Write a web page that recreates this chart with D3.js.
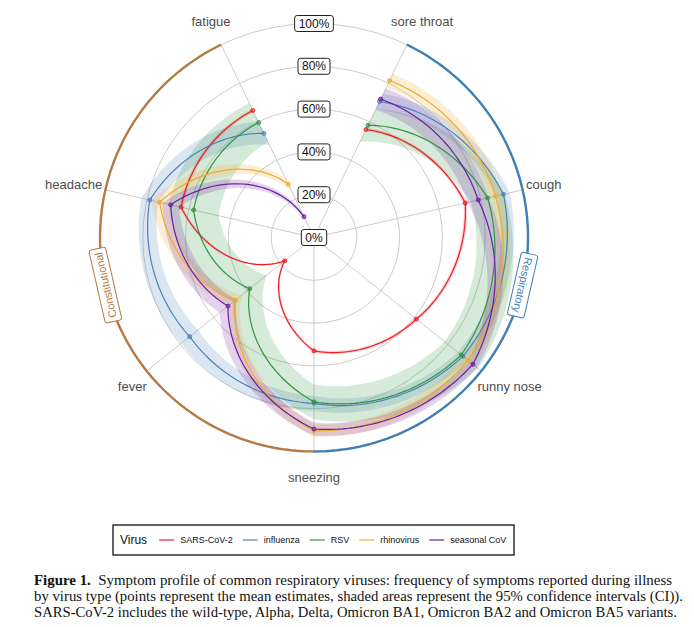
<!DOCTYPE html>
<html>
<head>
<meta charset="utf-8">
<script src="https://cdn.jsdelivr.net/npm/d3@7"></script>
<style>
  body { margin: 0; background: #fff; }
  .axis-label { font-family: "Liberation Sans", Arial, sans-serif; font-size: 13px; fill: #4d4d4d; }
  .pct-label { font-family: "Liberation Sans", Arial, sans-serif; font-size: 12px; fill: #111; }
  .legend-text { font-family: "Liberation Sans", Arial, sans-serif; font-size: 9px; fill: #111; }
  .caption { font-family: "Liberation Serif", "DejaVu Serif", serif; font-size: 14px; fill: #111; }
</style>
</head>
<body>
<div id="chart"></div>
<script>
// Symptom radar (polar) chart

const WIDTH = 694
const HEIGHT = 627

const symptoms = ["sore throat", "cough", "runny nose", "sneezing", "fever", "headache", "fatigue"]
const viruses = ["SARS-CoV-2", "influenza", "RSV", "rhinovirus", "seasonal CoV"]
const virusColors = ["#ee1f23", "#4a83b8", "#2f9440", "#f2a92c", "#6c1fa0"]

// mean % of symptom reported, in symptom order
const sarsValues = [56, 72.5, 61.2, 53, 17.5, 63.7, 65.9]
const fluValues = [70.5, 90.8, 89, 77.5, 74.3, 78.7, 54]
const rsvValues = [58.2, 83.2, 88, 76.8, 38.4, 57.7, 59.6]
const rhinoValues = [81.4, 87, 92, 90.3, 46.9, 74, 27.6]
const seasonalValues = [71.8, 78.7, 95, 89.5, 51.4, 68.7, 10.8]

// half width of the 95% CI, percentage points
const sarsCI = [0.8, 0.8, 0.8, 0.8, 0.8, 0.8, 0.8]
const fluCI = [4, 3, 3, 3.5, 5, 4, 6]
const rsvCI = [8.5, 8, 10, 8, 10, 12, 10]
const rhinoCI = [3.5, 3, 3, 3, 3.5, 4, 3]
const seasonalCI = [5.5, 5, 2.5, 3, 5, 4, 3]

const pctTicks = [0, 20, 40, 60, 80, 100]

const groups = ["Respiratory", "Constitutional"]
const groupColors = ["#3f7fb3", "#b57a44"]
const groupFrom = ["sore throat", "sneezing"]
const groupTo = ["sneezing", "fatigue"]

const CX = 314
const CY = 237.5
const R = 214

const allValues = [sarsValues, fluValues, rsvValues, rhinoValues, seasonalValues]
const allCI = [sarsCI, fluCI, rsvCI, rhinoCI, seasonalCI]

const svg = d3.select("#chart")
  .append("svg")
  .attr("width", WIDTH)
  .attr("height", HEIGHT)

const plot = svg.append("g")
  .attr("transform", `translate(${CX}, ${CY})`)

const angleScale = d3.scaleBand()
  .domain(symptoms)
  .range([0, 2 * Math.PI])
const angleOf = s => angleScale(s) + angleScale.bandwidth() / 2

const rScale = d3.scaleLinear()
  .domain([0, 100])
  .range([0, R])

// coord_polar style: r changes linearly with angle between two points
function munch(rows, steps = 30) {
  const out = []
  for (let i = 0; i < rows.length - 1; i++) {
    const a = rows[i], b = rows[i + 1]
    for (let k = 0; k < steps; k++) {
      const t = k / steps
      out.push({
        a: a.a + (b.a - a.a) * t,
        v: a.v + (b.v - a.v) * t,
        lo: a.lo + (b.lo - a.lo) * t,
        hi: a.hi + (b.hi - a.hi) * t
      })
    }
  }
  out.push(rows[rows.length - 1])
  return out
}

const series = viruses.map((name, i) => ({
  name: name,
  color: virusColors[i],
  rows: symptoms.map((s, j) => ({
    a: angleOf(s),
    v: allValues[i][j],
    lo: allValues[i][j] - allCI[i][j],
    hi: allValues[i][j] + allCI[i][j]
  }))
}))

// Grid
plot.selectAll("circle.grid")
  .data(pctTicks.slice(1))
  .join("circle")
  .attr("class", "grid")
  .attr("r", d => rScale(d))
  .attr("fill", "none")
  .attr("stroke", "#bfbfbf")
  .attr("stroke-width", 0.8)

plot.selectAll("line.spoke")
  .data(symptoms)
  .join("line")
  .attr("class", "spoke")
  .attr("x1", 0).attr("y1", 0)
  .attr("x2", d => rScale(100) * Math.sin(angleOf(d)))
  .attr("y2", d => -rScale(100) * Math.cos(angleOf(d)))
  .attr("stroke", "#bfbfbf")
  .attr("stroke-width", 0.8)

// Ribbons, lines, points
const ribbon = d3.areaRadial()
  .angle(d => d.a)
  .innerRadius(d => rScale(Math.max(0, d.lo)))
  .outerRadius(d => rScale(Math.min(100, d.hi)))

const line = d3.lineRadial()
  .angle(d => d.a)
  .radius(d => rScale(d.v))

plot.selectAll("path.ribbon")
  .data(series)
  .join("path")
  .attr("class", "ribbon")
  .attr("d", d => ribbon(munch(d.rows)))
  .attr("fill", d => d.color)
  .attr("fill-opacity", 0.2)

plot.selectAll("path.virus-line")
  .data(series)
  .join("path")
  .attr("class", "virus-line")
  .attr("d", d => line(munch(d.rows)))
  .attr("fill", "none")
  .attr("stroke", d => d.color)
  .attr("stroke-width", 1.2)

series.forEach(s => {
  plot.selectAll(null)
    .data(s.rows)
    .join("circle")
    .attr("cx", d => rScale(d.v) * Math.sin(d.a))
    .attr("cy", d => -rScale(d.v) * Math.cos(d.a))
    .attr("r", 2)
    .attr("fill", s.color)
    .attr("fill-opacity", 0.6)
    .attr("stroke", s.color)
    .attr("stroke-width", 0.9)
})

// Category arcs
groups.forEach((g, i) => {
  const a0 = angleOf(groupFrom[i])
  const a1 = angleOf(groupTo[i])
  const arcPts = d3.range(0, 101).map(k => ({ a: a0 + (a1 - a0) * k / 100, v: 100 }))
  plot.append("path")
    .attr("d", line(arcPts))
    .attr("fill", "none")
    .attr("stroke", groupColors[i])
    .attr("stroke-width", 2.4)

  const am = (a0 + a1) / 2
  const lg = plot.append("g")
    .attr("transform", `translate(${rScale(100) * Math.sin(am)}, ${-rScale(100) * Math.cos(am)}) rotate(${am * 180 / Math.PI})`)
  const t = lg.append("text")
    .text(g)
    .attr("text-anchor", "middle")
    .attr("dominant-baseline", "central")
    .attr("font-family", "Liberation Sans, Arial, sans-serif")
    .attr("font-size", 11)
    .attr("fill", groupColors[i])
  const w = t.node().getComputedTextLength()
  lg.insert("rect", "text")
    .attr("x", -w / 2 - 4).attr("y", -8.5)
    .attr("width", w + 8).attr("height", 17)
    .attr("rx", 2.5)
    .attr("fill", "#fff")
    .attr("stroke", groupColors[i])
    .attr("stroke-width", 1)
})

// Symptom labels
symptoms.forEach(s => {
  const a = angleOf(s)
  const ax = 218 * Math.sin(a)
  const ay = -233 * Math.cos(a)
  const t = plot.append("text")
    .attr("class", "axis-label")
    .text(s)
    .attr("dominant-baseline", "central")
  const w = t.node().getComputedTextLength()
  t.attr("x", ax + Math.sin(a) * w / 2 - w / 2)
    .attr("y", ay - Math.cos(a) * 6.5)
})

// Percent labels
pctTicks.forEach(p => {
  const g = plot.append("g")
    .attr("transform", `translate(0, ${-rScale(p)})`)
  const t = g.append("text")
    .attr("class", "pct-label")
    .text(p + "%")
    .attr("text-anchor", "middle")
    .attr("dominant-baseline", "central")
  const w = t.node().getComputedTextLength()
  g.insert("rect", "text")
    .attr("x", -w / 2 - 4).attr("y", -8)
    .attr("width", w + 8).attr("height", 16)
    .attr("rx", 2.5)
    .attr("fill", "#fff")
    .attr("stroke", "#222")
    .attr("stroke-width", 1)
})

// Legend
const legend = svg.append("g").attr("transform", "translate(113, 525)")
legend.append("rect")
  .attr("width", 401).attr("height", 30)
  .attr("fill", "#fff")
  .attr("stroke", "#111")
  .attr("stroke-width", 1.3)

let lx = 7
const title = legend.append("text")
  .text("Virus")
  .attr("x", lx).attr("y", 15)
  .attr("dominant-baseline", "central")
  .attr("font-family", "Liberation Sans, Arial, sans-serif")
  .attr("font-size", 12)
  .attr("fill", "#111")
lx += title.node().getComputedTextLength() + 12

viruses.forEach((v, i) => {
  legend.append("line")
    .attr("x1", lx).attr("x2", lx + 15)
    .attr("y1", 15).attr("y2", 15)
    .attr("stroke", virusColors[i])
    .attr("stroke-width", 1.2)
  const t = legend.append("text")
    .attr("class", "legend-text")
    .text(v)
    .attr("x", lx + 21).attr("y", 15)
    .attr("dominant-baseline", "central")
  lx += 21 + t.node().getComputedTextLength() + 10
})

// Caption
const captionLines = [
  "Symptom profile of common respiratory viruses: frequency of symptoms reported during illness",
  "by virus type (points represent the mean estimates, shaded areas represent the 95% confidence intervals (CI)).",
  "SARS-CoV-2 includes the wild-type, Alpha, Delta, Omicron BA1, Omicron BA2 and Omicron BA5 variants."
]
const captionEnds = [672, 683, 677]

captionLines.forEach((c, i) => {
  const t = svg.append("text")
    .attr("class", "caption")
    .attr("x", 34)
    .attr("y", 585 + i * 16)
  if (i === 0) {
    t.append("tspan").text("Figure 1.").attr("font-weight", "bold")
    t.append("tspan").text("\u00a0\u00a0" + c)
  } else {
    t.text(c)
  }
  t.attr("textLength", captionEnds[i] - 34).attr("lengthAdjust", "spacingAndGlyphs")
})
</script>
</body>
</html>
